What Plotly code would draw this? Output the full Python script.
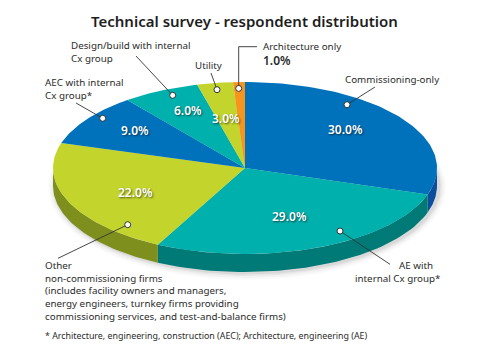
import numpy as np
import plotly.graph_objects as go

# --- data ---
categories = ["Commissioning-only", "AE with internal Cx group*", "Other non-commissioning firms",
              "AEC with internal Cx group*", "Design/build with internal Cx group", "Utility", "Architecture only"]
printed_values = ["30.0%", "29.0%", "22.0%", "9.0%", "6.0%", "3.0%", "1.0%"]
# share of the circle that each wedge takes up as drawn
drawn_shares = [30, 27.5, 22.2, 9.8, 6.5, 3, 1]

# --- styles and layout ---
top_colors = ["#0072BC", "#00B0AC", "#C3D52D", "#0072BC", "#00B0AC", "#C3D52D", "#F7941D"]
side_colors = ["#0B4E9B", "#007A76", "#7F8F1E", "#0B4E9B", "#007A76", "#7F8F1E", "#B86A10"]
CX, CY, RX, RY, DEPTH = 245, 168, 192, 86, 18
FONT = "Noto Sans"
INK = "#2b2b2b"
PAGE_MARGIN = 8  # the page body's default margin


def ex(t):
    return CX + RX * np.sin(t)


def ey(t):
    return CY - RY * np.cos(t)


fig = go.Figure()

# soft shadow
for grow, alpha in [(7, 0.018), (5, 0.03), (3, 0.045), (1.5, 0.06)]:
    t = np.linspace(0, 2 * np.pi, 180)
    fig.add_trace(go.Scatter(x=CX + 2 + (RX + grow) * np.sin(t),
                             y=CY + DEPTH + 1 - (RY + grow) * np.cos(t),
                             mode="lines", fill="toself", line=dict(width=0),
                             fillcolor=f"rgba(0,0,0,{alpha})", hoverinfo="skip"))

bounds = np.concatenate([[0], np.cumsum(drawn_shares)]) / sum(drawn_shares) * 2 * np.pi

# side wall
for i in range(len(drawn_shares)):
    a, b = max(bounds[i], np.pi / 2), min(bounds[i + 1], 3 * np.pi / 2)
    if b <= a:
        continue
    t = np.linspace(a, b, 60)
    fig.add_trace(go.Scatter(x=np.r_[ex(t), ex(t[::-1])],
                             y=np.r_[ey(t), ey(t[::-1]) + DEPTH],
                             mode="lines", fill="toself", line=dict(width=0),
                             fillcolor=side_colors[i], hoverinfo="skip"))

# top face
for i in range(len(drawn_shares)):
    t = np.linspace(bounds[i], bounds[i + 1], 80)
    fig.add_trace(go.Scatter(x=np.r_[CX, ex(t), CX], y=np.r_[CY, ey(t), CY],
                             mode="lines", fill="toself", line=dict(width=0),
                             fillcolor=top_colors[i], name=categories[i], hoverinfo="skip"))

# leader lines: (xs, ys), last point carries the dot
leaders = [
    ([136, 172.7], [56, 95.3]),
    ([211, 217], [73, 89.7]),
    ([76, 102.7], [103, 118.3]),
    ([257, 238.7, 238.7], [46.7, 46.7, 88.4]),
    ([375, 347], [87, 104.7]),
    ([390, 340], [264.3, 231]),
    ([58, 127.7], [258.3, 224.7]),
]
for xs, ys in leaders:
    fig.add_trace(go.Scatter(x=xs, y=ys, mode="lines", line=dict(color="#333333", width=0.9), hoverinfo="skip"))
    fig.add_trace(go.Scatter(x=xs[-1:], y=ys[-1:], mode="markers",
                             marker=dict(size=6, color="white", line=dict(color="#333333", width=1)),
                             hoverinfo="skip"))

annotations = []
PAD = 2  # annotation box padding


def text(x, y, s, size=9.8, bold=False, anchor="left", color=INK, shadow=None):
    font = dict(family=FONT, size=size, color=color, weight=600 if bold else 400)
    if shadow:
        font["shadow"] = shadow
    annotations.append(dict(x=x - PAD if anchor == "left" else x, y=y, xref="x", yref="y", text=s,
                            showarrow=False, xanchor=anchor, yanchor="middle", align=anchor, font=font))


text(244.5, 21, "Technical survey - respondent distribution", size=15, bold=True, anchor="center", color="#1e1e1e")
for x, y, s in [
    (71, 52, "Design/build with internal<br>Cx group"),
    (194.5, 65, "Utility"),
    (45, 89, "AEC with internal<br>Cx group*"),
    (263, 46, "Architecture only"),
    (344.5, 79, "Commissioning-only"),
    (399, 265, "AE with"), (355, 278, "internal Cx group*"),
    (45, 291, "Other<br>non-commissioning firms<br>(includes facility owners and managers,<br>"
              "energy engineers, turnkey firms providing<br>commissioning services, and test-and-balance firms)"),
]:
    text(x, y, s)
text(45, 335.7, "* Architecture, engineering, construction (AEC); Architecture, engineering (AE)", size=8.85)
text(263, 60.5, printed_values[6], size=12, bold=True)

label_pos = [(345.7, 129), (289.7, 216), (135, 192), (134.7, 130.7), (187.7, 110), (226, 118)]
for (x, y), s in zip(label_pos, printed_values[:6]):
    text(x, y, s, size=12, bold=True, anchor="center", color="white", shadow="1px 1px 2px rgba(0,0,0,0.6)")

fig.update_layout(
    width=485 - PAGE_MARGIN, height=350 - PAGE_MARGIN, autosize=False,
    margin=dict(l=0, r=0, t=0, b=0), showlegend=False,
    paper_bgcolor="white", plot_bgcolor="white", annotations=annotations,
    xaxis=dict(range=[PAGE_MARGIN, 485], visible=False, fixedrange=True),
    yaxis=dict(range=[350, PAGE_MARGIN], visible=False, fixedrange=True),
)
fig.write_html("out.html", config={"displayModeBar": False})
